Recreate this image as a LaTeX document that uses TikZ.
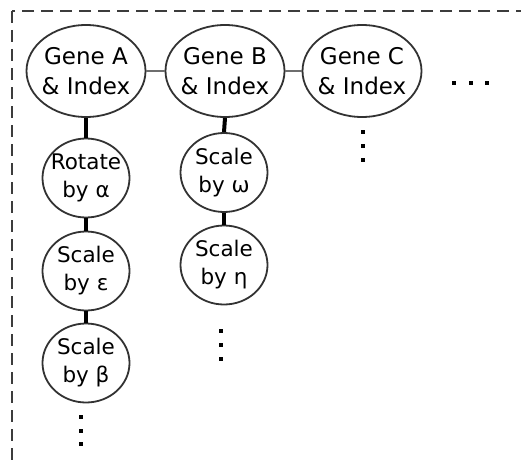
\documentclass[tikz,border=0pt]{standalone}
\usepackage{fontspec}
\setmainfont{DejaVu Sans}
\usetikzlibrary{shapes.geometric}
\definecolor{rim}{RGB}{50,50,50}
\definecolor{frame}{RGB}{60,60,60}
\definecolor{link}{RGB}{110,110,110}
\tikzset{
  bubble/.style={ellipse, draw=rim, line width=1.8pt, inner sep=0pt},
  gene/.style={bubble, minimum width=119pt, minimum height=92pt,
    label={[align=center, font=\fontsize{23}{30}\selectfont]center:#1}},
  op/.style={bubble, minimum width=87pt, minimum height=79pt,
    label={[align=center, font=\fontsize{21.5}{28}\selectfont]center:#1}},
  sibling/.style={draw=link, line width=2.6pt},
  chain/.style={draw=black, line width=4pt},
  dot/.style={fill=black}
}
\newcommand{\sqdot}[2]{\fill[dot] (#1-1.8,#2-1.8) rectangle (#1+1.8,#2+1.8);}
\begin{document}
\begin{tikzpicture}[x=1pt,y=-1pt]
  \useasboundingbox (0,0) rectangle (521,460);
  \begin{scope}
    \clip (0,0) rectangle (521,460);
    \draw[frame, line width=2pt, dash pattern=on 12pt off 7pt]
      (12,11) rectangle (560,500);
  \end{scope}

  % gene nodes
  \node[gene={Gene A\\\& Index}] (ga) at (86,71) {};
  \node[gene={Gene B\\\& Index}] (gb) at (225,71) {};
  \node[gene={Gene C\\\& Index}] (gc) at (362,71) {};

  % operation nodes
  \node[op={Rotate\\by α}] (rot) at (86,178) {};
  \node[op={Scale\\by ε}] (eps) at (86,271) {};
  \node[op={Scale\\by β}] (bet) at (86,363) {};
  \node[op={Scale\\by ω}] (omg) at (224,172.5) {};
  \node[op={Scale\\by η}] (eta) at (224,265) {};

  % links between genes
  \draw[sibling] (ga.east) -- (gb.west);
  \draw[sibling] (gb.east) -- (gc.west);

  % operation chains
  \draw[chain] (ga.south) -- (rot.north);
  \draw[chain] (rot.south) -- (eps.north);
  \draw[chain] (eps.south) -- (bet.north);
  \draw[chain] (gb.south) -- (omg.north);
  \draw[chain] (omg.south) -- (eta.north);

  % continuation dots
  \sqdot{454}{83}\sqdot{471}{83}\sqdot{487}{83}
  \sqdot{363}{132}\sqdot{363}{146}\sqdot{363}{160}
  \sqdot{221}{331}\sqdot{221}{345}\sqdot{221}{359}
  \sqdot{81}{417}\sqdot{81}{431}\sqdot{81}{444}
\end{tikzpicture}
\end{document}
